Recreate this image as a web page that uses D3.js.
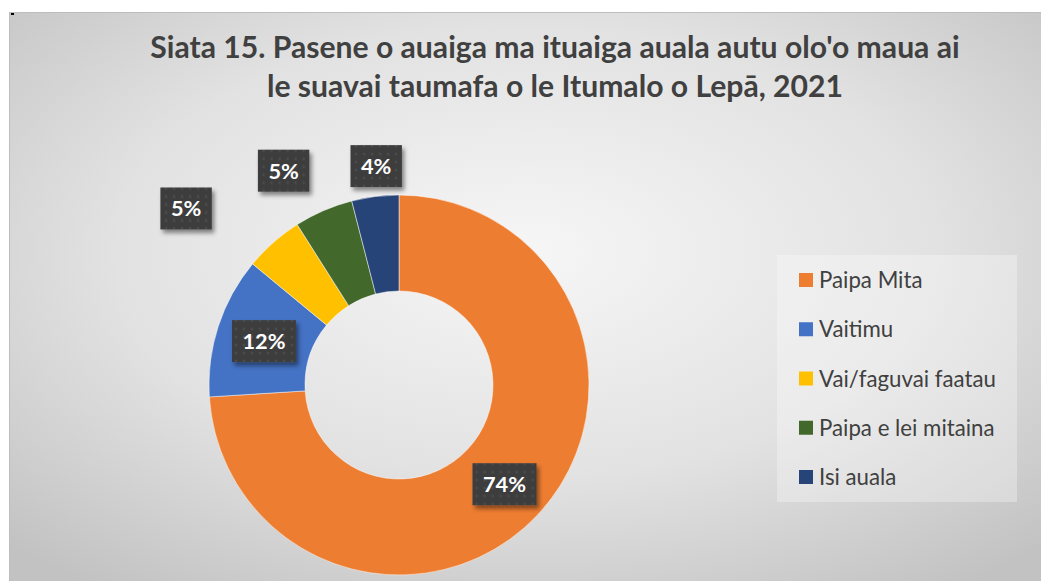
<!DOCTYPE html>
<html>
<head>
<meta charset="utf-8">
<script src="https://cdn.jsdelivr.net/npm/d3@7"></script>
<style>
  html, body { margin: 0; padding: 0; background: #ffffff; }
  svg { display: block; }
</style>
</head>
<body>
<svg id="chart" width="1041" height="581"></svg>
<script>
// ---- data ----
const titleLines = ["Siata 15. Pasene o auaiga ma ituaiga auala autu olo'o maua ai",
                    "le suavai taumafa o le Itumalo o Lepā, 2021"];
const categories = ["Paipa Mita", "Vaitimu", "Vai/faguvai faatau", "Paipa e lei mitaina", "Isi auala"];
const values = [74, 12, 5, 5, 4];
const colors = ["#ED7D31", "#4472C4", "#FFC000", "#43682B", "#264478"];
// manual label nudges (px) relative to ring-centroid, as placed in the original
const labelNudge = [[2, 2], [0, 0], [-119, -70], [-59, -84], [-5, -78]];

const W = 1041, H = 581;
const svg = d3.select("#chart");
const FONT = "Lato, 'Noto Sans', sans-serif";

const defs = svg.append("defs");
const grad = defs.append("radialGradient").attr("id", "bg")
  .attr("cx", "50%").attr("cy", "42%").attr("r", "72%");
grad.append("stop").attr("offset", "0%").attr("stop-color", "#f6f6f6");
grad.append("stop").attr("offset", "55%").attr("stop-color", "#e2e2e2");
grad.append("stop").attr("offset", "100%").attr("stop-color", "#c2c2c2");

const pat = defs.append("pattern").attr("id", "dots").attr("patternUnits", "userSpaceOnUse")
  .attr("width", 8).attr("height", 8);
pat.append("rect").attr("width", 8).attr("height", 8).attr("fill", "#3e3e3e");
pat.append("circle").attr("cx", 4).attr("cy", 4).attr("r", 1.2).attr("fill", "#4c4c4c");

const sh = defs.append("filter").attr("id", "shadow").attr("x", "-30%").attr("y", "-30%")
  .attr("width", "170%").attr("height", "170%");
sh.append("feDropShadow").attr("dx", 2.5).attr("dy", 3.5).attr("stdDeviation", 2.2)
  .attr("flood-color", "#000").attr("flood-opacity", 0.45);

// chart area
const area = {x: 9, y: 12, w: W - 9 + 2, h: H - 12 + 2};
svg.append("rect").attr("x", area.x + 0.5).attr("y", area.y + 0.5)
  .attr("width", area.w).attr("height", area.h)
  .attr("fill", "url(#bg)").attr("stroke", "#bdbdbd").attr("stroke-width", 1);
svg.append("rect").attr("x", 11).attr("y", 13).attr("width", 3).attr("height", 2).attr("fill", "#000");

// title
function fitText(sel, targetW) {
  const w = sel.node().getComputedTextLength();
  const fs = parseFloat(sel.attr("font-size"));
  sel.attr("font-size", fs * targetW / w);
}
const titleX = 555;
const t1 = svg.append("text").attr("x", titleX).attr("y", 58).attr("text-anchor", "middle")
  .attr("font-family", FONT).attr("font-weight", 700).attr("font-size", 28)
  .attr("fill", "#404040").text(titleLines[0]);
fitText(t1, 810);
const fsTitle = parseFloat(t1.attr("font-size"));
svg.append("text").attr("x", titleX).attr("y", 97).attr("text-anchor", "middle")
  .attr("font-family", FONT).attr("font-weight", 700).attr("font-size", fsTitle)
  .attr("fill", "#404040").text(titleLines[1]);

// donut
const cx = 399, cy = 385, rOuter = 190, rInner = 94;
const pie = d3.pie().sort(null).value(d => d)(values);
const arc = d3.arc().innerRadius(rInner).outerRadius(rOuter);
const g = svg.append("g").attr("transform", `translate(${cx},${cy})`);
g.selectAll("path").data(pie).join("path")
  .attr("d", arc).attr("fill", (d, i) => colors[i])
  .attr("stroke", "#ffffff").attr("stroke-opacity", 0.6).attr("stroke-width", 0.8);

// data labels: font sized so "74%" is ~43px wide like the original
const probe = svg.append("text").attr("font-family", FONT).attr("font-weight", 700)
  .attr("font-size", 20).text(values[0] + "%");
const labFs = 20 * 43 / probe.node().getComputedTextLength();
probe.remove();
const labG = g.append("g");
pie.forEach((d, i) => {
  const c = arc.centroid(d);
  const x = c[0] + labelNudge[i][0], y = c[1] + labelNudge[i][1];
  const grp = labG.append("g").attr("transform", `translate(${x},${y})`);
  const rect = grp.append("rect").attr("fill", "url(#dots)").attr("filter", "url(#shadow)");
  const tx = grp.append("text").attr("text-anchor", "middle").attr("dy", "0.36em")
    .attr("font-family", FONT).attr("font-weight", 700).attr("font-size", labFs)
    .attr("fill", "#ffffff").text(values[i] + "%");
  const tw = tx.node().getComputedTextLength();
  const bw = tw + 21, bh = 42;
  rect.attr("x", -bw / 2).attr("y", -bh / 2).attr("width", bw).attr("height", bh);
});

// legend
const lg = {x: 777, y: 255, w: 240, h: 247};
svg.append("rect").attr("x", lg.x).attr("y", lg.y).attr("width", lg.w).attr("height", lg.h)
  .attr("fill", "#ffffff").attr("fill-opacity", 0.3);
const ly = d3.scalePoint().domain(categories).range([280, 477]);
const items = svg.append("g").selectAll("g").data(categories).join("g")
  .attr("transform", d => `translate(799,${ly(d)})`);
items.append("rect").attr("x", 0).attr("y", -7).attr("width", 14).attr("height", 14)
  .attr("fill", (d, i) => colors[i]);
const legTexts = items.append("text").attr("x", 20).attr("dy", "0.36em")
  .attr("font-family", FONT).attr("font-size", 18).attr("fill", "#404040").text(d => d);
const refW = legTexts.filter((d, i) => i === 2).node().getComputedTextLength();
legTexts.attr("font-size", 18 * 177 / refW);
</script>
</body>
</html>
